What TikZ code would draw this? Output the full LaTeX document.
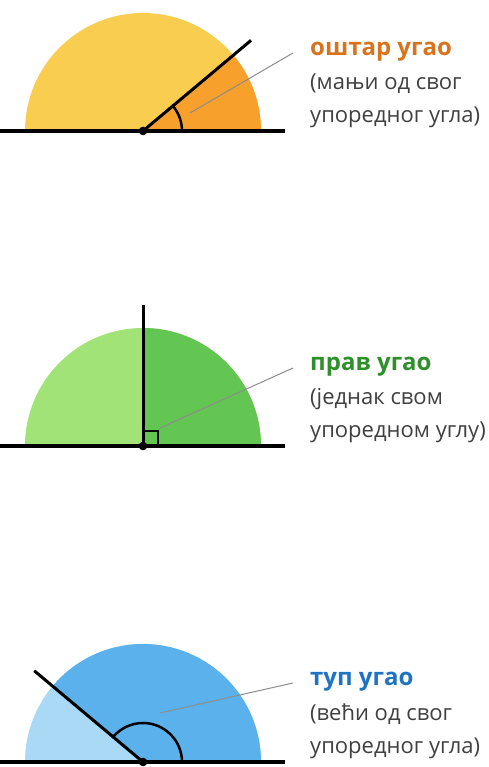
\documentclass[tikz,border=0pt]{standalone}
\usepackage{fontspec}
\setmainfont{Open Sans}
\usepackage{xcolor}
\usetikzlibrary{positioning, calc}

\definecolor{acuteLight}{HTML}{F9CE50}
\definecolor{acuteDark}{HTML}{F7A12C}
\definecolor{acuteText}{HTML}{D8731C}
\definecolor{rightLight}{HTML}{A1E377}
\definecolor{rightDark}{HTML}{63C552}
\definecolor{rightText}{HTML}{2E8F2B}
\definecolor{obtuseLight}{HTML}{AAD9F6}
\definecolor{obtuseDark}{HTML}{5BB1EC}
\definecolor{obtuseText}{HTML}{1F74C2}

\begin{document}
\begin{tikzpicture}[x=1pt, y=1pt,
  baseline/.style={line width=3.2pt},
  ray/.style={line width=3pt},
  anglemark/.style={line width=2.5pt},
  pointer/.style={black!45, line width=1pt},
  title/.style={anchor=base west, inner sep=0pt, font=\fontsize{24}{28}\selectfont\bfseries},
  note/.style={anchor=base west, inner sep=0pt, align=left, text=black!75,
    font=\fontsize{22}{33}\selectfont}]
  \useasboundingbox (0,0) rectangle (489,767);

  % acute angle
  \coordinate (c1) at (143,636);
  \fill[acuteLight] (c1) -- ++(0:118) arc[start angle=0, end angle=180, radius=118pt] -- cycle;
  \fill[acuteDark] (c1) -- ++(0:118) arc[start angle=0, end angle=40, radius=118pt] -- cycle;
  \draw[baseline] (0,636) -- (285,636);
  \draw[ray] (c1) -- ++(40:141) coordinate (r1);
  \draw[anglemark] (c1) ++(0:39) arc[start angle=0, end angle=40, radius=39pt];
  \fill (c1) circle (4.3pt);
  \node[title, text=acuteText] (t1) at (310,711) {оштар угао};
  \node[note] (n1) at (310,644) {(мањи од свог\\упоредног угла)};
  \coordinate (p1) at ($(c1)+(47,18)$);
  \coordinate (e1) at (293,714);
  \draw[pointer] (p1) -- (e1);

  % right angle
  \coordinate (c2) at (143,321);
  \fill[rightLight] (c2) -- ++(0:118) arc[start angle=0, end angle=180, radius=118pt] -- cycle;
  \fill[rightDark] (c2) -- ++(0:118) arc[start angle=0, end angle=90, radius=118pt] -- cycle;
  \draw[baseline] (0,321) -- (285,321);
  \draw[ray] (c2) -- ++(90:141) coordinate (r2);
  \draw[anglemark] (c2) ++(15,0) |- ++(-15,15);
  \fill (c2) circle (4.3pt);
  \node[title, text=rightText] (t2) at (310,396) {прав угао};
  \node[note] (n2) at (310,329) {(једнак свом\\упоредном углу)};
  \coordinate (p2) at ($(c2)+(17,18)$);
  \coordinate (e2) at (293,399);
  \draw[pointer] (p2) -- (e2);

  % obtuse angle
  \coordinate (c3) at (143,5);
  \fill[obtuseLight] (c3) -- ++(0:118) arc[start angle=0, end angle=180, radius=118pt] -- cycle;
  \fill[obtuseDark] (c3) -- ++(0:118) arc[start angle=0, end angle=140, radius=118pt] -- cycle;
  \draw[baseline] (0,5) -- (285,5);
  \draw[ray] (c3) -- ++(140:142) coordinate (r3);
  \draw[anglemark] (c3) ++(0:39) arc[start angle=0, end angle=140, radius=39pt];
  \fill (c3) circle (4.3pt);
  \node[title, text=obtuseText] (t3) at (310,81) {туп угао};
  \node[note] (n3) at (310,13) {(већи од свог\\упоредног угла)};
  \coordinate (p3) at ($(c3)+(17,49)$);
  \coordinate (e3) at (293,84);
  \draw[pointer] (p3) -- (e3);
\end{tikzpicture}
\end{document}
